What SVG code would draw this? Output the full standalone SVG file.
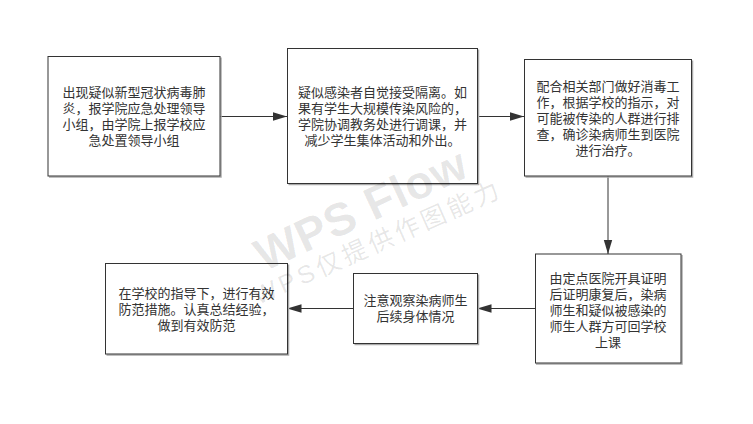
<svg xmlns="http://www.w3.org/2000/svg" width="753" height="424" viewBox="0 0 753 424">
<style>
.box{fill:#ffffff;stroke:#333333;stroke-width:1}
.sh{fill:none;stroke:#aaaaaa;stroke-width:1.5}
.t{font-family:"Liberation Sans","Noto Sans CJK SC",sans-serif;font-size:13px;fill:#333333;text-anchor:middle}
.c{stroke:#333333;stroke-width:1;fill:none;marker-end:url(#ah)}
.wm{font-family:"Liberation Sans","Noto Sans CJK SC",sans-serif;fill:#000000;fill-opacity:0.1}
</style>
<defs>
<marker id="ah" markerUnits="userSpaceOnUse" markerWidth="14" markerHeight="10" refX="14" refY="5" orient="auto">
<path d="M0,0.8 L14,5 L0,9.2 Z" fill="#333333"/>
</marker>
</defs>
<rect width="753" height="424" fill="#ffffff"/>
<g id="connectors">
<line class="c" x1="220" y1="116.5" x2="287" y2="116.5"/>
<line class="c" x1="477.5" y1="116.5" x2="524" y2="116.5"/>
<line class="c" x1="608" y1="176" x2="608" y2="254"/>
<line class="c" x1="535" y1="308.5" x2="477.5" y2="308.5"/>
<line class="c" x1="353" y1="308.5" x2="287.5" y2="308.5"/>
</g>
<g id="n1">
<polyline class="sh" points="221,57.5 221,177 49,177"/>
<rect class="box" x="48" y="56.5" width="172" height="119.5"/>
<text class="t" x="134" y="97">出现疑似新型冠状病毒肺</text>
<text class="t" x="134" y="113">炎，报学院应急处理领导</text>
<text class="t" x="134" y="129">小组，由学院上报学校应</text>
<text class="t" x="134" y="145">急处置领导小组</text>
</g>
<g id="n2">
<polyline class="sh" points="478.5,49.5 478.5,184.5 288.5,184.5"/>
<rect class="box" x="287.5" y="48.5" width="190" height="135"/>
<text class="t" x="382.5" y="97">疑似感染者自觉接受隔离。如</text>
<text class="t" x="382.5" y="113">果有学生大规模传染风险的，</text>
<text class="t" x="382.5" y="129">学院协调教务处进行调课，并</text>
<text class="t" x="382.5" y="145">减少学生集体活动和外出。</text>
</g>
<g id="n3">
<polyline class="sh" points="692.5,60.5 692.5,177 525.5,177"/>
<rect class="box" x="524.5" y="59.5" width="167" height="116.5"/>
<text class="t" x="608" y="91">配合相关部门做好消毒工</text>
<text class="t" x="608" y="107">作，根据学校的指示，对</text>
<text class="t" x="608" y="123">可能被传染的人群进行排</text>
<text class="t" x="608" y="139">查，确诊染病师生到医院</text>
<text class="t" x="608" y="155">进行治疗。</text>
</g>
<g id="n4">
<polyline class="sh" points="682,255 682,364 536,364"/>
<rect class="box" x="535.5" y="254" width="145.5" height="109"/>
<text class="t" x="608" y="283">由定点医院开具证明</text>
<text class="t" x="608" y="299">后证明康复后，染病</text>
<text class="t" x="608" y="315">师生和疑似被感染的</text>
<text class="t" x="608" y="331">师生人群方可回学校</text>
<text class="t" x="608" y="347">上课</text>
</g>
<g id="n5">
<polyline class="sh" points="478.5,274.5 478.5,344.5 354.5,344.5"/>
<rect class="box" x="353.5" y="273.5" width="124" height="70"/>
<text class="t" x="415.5" y="305">注意观察染病师生</text>
<text class="t" x="415.5" y="321">后续身体情况</text>
</g>
<g id="n6">
<polyline class="sh" points="288.5,264.5 288.5,355 106.5,355"/>
<rect class="box" x="105.5" y="263.5" width="182" height="90.5"/>
<text class="t" x="196.5" y="298">在学校的指导下，进行有效</text>
<text class="t" x="196.5" y="314">防范措施。认真总结经验，</text>
<text class="t" x="196.5" y="330">做到有效防范</text>
</g>
<g id="watermark">
<text class="wm" x="264" y="272" font-size="46" font-weight="bold" textLength="228" lengthAdjust="spacing" transform="rotate(-25 264 272)">WPS Flow</text>
<text class="wm" x="258" y="305" font-size="25" textLength="266" lengthAdjust="spacing" transform="rotate(-24 258 305)">WPS仅提供作图能力</text>
</g>
</svg>
